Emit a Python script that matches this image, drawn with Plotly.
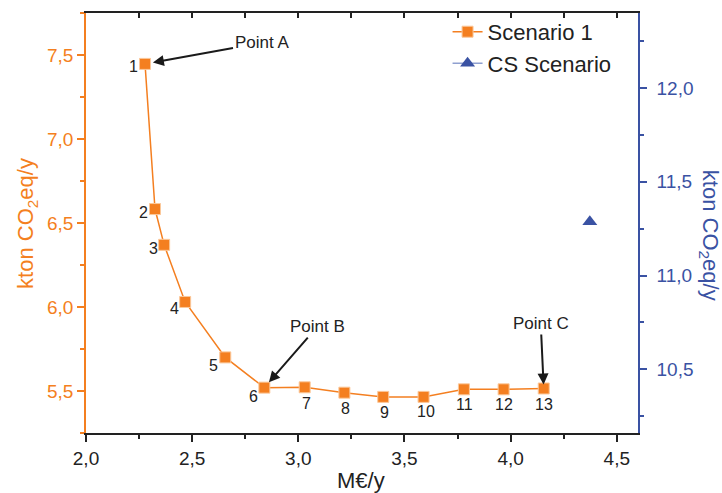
import plotly.graph_objects as go

# ---- data ----
cost_s1 = [2.278, 2.325, 2.368, 2.467, 2.656, 2.840, 3.030, 3.217, 3.400, 3.590, 3.780, 3.967, 4.156]
emis_s1 = [7.447, 6.583, 6.370, 6.030, 5.700, 5.520, 5.522, 5.490, 5.465, 5.465, 5.510, 5.510, 5.515]
point_labels = ["1", "2", "3", "4", "5", "6", "7", "8", "9", "10", "11", "12", "13"]
cost_cs = [4.373]
emis_cs = [11.287]

x_ticks = [2.0, 2.5, 3.0, 3.5, 4.0, 4.5]
y_ticks = [5.5, 6.0, 6.5, 7.0, 7.5]
y2_ticks = [10.5, 11.0, 11.5, 12.0]

# label offsets in pixels (style, not data)
lbl_dx = [-12, -12, -11, -11, -12, -11, 2, 1, 1, 2, 1, 0, 0]
lbl_dy = [3, 3, 4, 7, 8, 9, 16, 16, 16, 15, 15, 15, 16]

ORANGE = "#F47F20"
BLUE = "#3A52A3"
DARK = "#222222"
FONT = "Liberation Sans"

fig = go.Figure()

fig.add_trace(go.Scatter(
    x=cost_s1, y=emis_s1, mode="lines+markers", name="Scenario 1",
    line=dict(color=ORANGE, width=1.5),
    marker=dict(symbol="square", size=11, color=ORANGE, line=dict(color="#FBC89A", width=1)),
    xaxis="x", yaxis="y",
))
fig.add_trace(go.Scatter(
    x=cost_cs, y=emis_cs, mode="lines+markers", name="CS Scenario",
    line=dict(color="#8FA0D0", width=1.5),
    marker=dict(symbol="triangle-up", size=13, color=BLUE),
    xaxis="x", yaxis="y2",
))
# invisible trace to carry the top mirror axis
fig.add_trace(go.Scatter(x=[cost_s1[0]], y=[emis_s1[0]], mode="markers", marker=dict(opacity=0),
                         showlegend=False, hoverinfo="skip", xaxis="x2", yaxis="y"))

annotations = []
for xv, yv, lab, dx, dy in zip(cost_s1, emis_s1, point_labels, lbl_dx, lbl_dy):
    annotations.append(dict(x=xv, y=yv, xref="x", yref="y", text=lab, showarrow=False,
                            xanchor="center", yanchor="middle", xshift=dx, yshift=-dy,
                            font=dict(family=FONT, size=16, color=DARK)))

ann_base = dict(showarrow=True, arrowhead=2, arrowsize=1.1, arrowwidth=2, arrowcolor="#1a1a1a",
                xref="x", yref="y", axref="pixel", ayref="pixel",
                font=dict(family=FONT, size=17, color=DARK))
annotations += [
    dict(ann_base, x=cost_s1[0], y=emis_s1[0], text="Point A", ax=117, ay=-21, standoff=8),
    dict(ann_base, x=cost_s1[5], y=emis_s1[5], text="Point B", ax=53, ay=-61, standoff=7),
    dict(ann_base, x=cost_s1[12], y=emis_s1[12], text="Point C", ax=-3, ay=-65, standoff=4),
    # axis titles
    dict(xref="paper", yref="paper", x=-0.107, y=0.5, showarrow=False, textangle=-90,
         xanchor="center", yanchor="middle",
         text="kton CO<sub>2</sub>eq/y", font=dict(family=FONT, size=22, color=ORANGE)),
    dict(xref="paper", yref="paper", x=1.13, y=0.47, showarrow=False, textangle=90,
         xanchor="center", yanchor="middle",
         text="kton CO<sub>2</sub>eq/y", font=dict(family=FONT, size=22, color=BLUE)),
    dict(xref="paper", yref="paper", x=0.499, y=-0.114, showarrow=False,
         xanchor="center", yanchor="middle",
         text="M€/y", font=dict(family=FONT, size=22, color=DARK)),
]

fig.update_layout(
    width=722, height=493,
    margin=dict(l=86, r=84, t=11, b=60),
    paper_bgcolor="white", plot_bgcolor="white",
    separators=",.",
    font=dict(family=FONT, size=19, color=DARK),
    showlegend=True,
    legend=dict(x=0.655, y=1.005, xanchor="left", yanchor="top", bgcolor="rgba(0,0,0,0)",
                font=dict(family=FONT, size=22, color=DARK), tracegroupgap=0),
    xaxis=dict(range=[2.0, 4.6], tickvals=x_ticks, tickformat=".1f", automargin=False,
               showgrid=False, zeroline=False, showline=True, linecolor=DARK, linewidth=1.5,
               ticks="outside", ticklen=7, tickwidth=1.5, tickcolor=DARK,
               minor=dict(dtick=0.25, tick0=2.0, ticks="outside", ticklen=4, tickwidth=1.5, tickcolor=DARK),
               tickfont=dict(family=FONT, size=19, color=DARK)),
    xaxis2=dict(range=[2.0, 4.6], overlaying="x", side="top", showticklabels=False, automargin=False,
                tickvals=[2.0, 2.25, 2.5, 2.75, 3.0, 3.25, 3.5, 3.75, 4.0, 4.25, 4.5],
                showgrid=False, zeroline=False, showline=True, linecolor=DARK, linewidth=1.5,
                ticks="inside", ticklen=5, tickwidth=1.5, tickcolor=DARK),
    yaxis=dict(range=[5.25, 7.75], tickvals=y_ticks, tickformat=".1f", automargin=False,
               showgrid=False, zeroline=False, showline=True, linecolor=ORANGE, linewidth=1.5,
               ticks="outside", ticklen=7, tickwidth=1.5, tickcolor=ORANGE,
               minor=dict(dtick=0.25, tick0=5.25, ticks="outside", ticklen=4, tickwidth=1.5, tickcolor=ORANGE),
               tickfont=dict(family=FONT, size=19, color=ORANGE)),
    yaxis2=dict(range=[10.16, 12.4], overlaying="y", side="right", tickvals=y2_ticks, tickformat=".1f",
                automargin=False, ticklabelstandoff=6,
                showgrid=False, zeroline=False, showline=True, linecolor=BLUE, linewidth=1.5,
                ticks="outside", ticklen=7, tickwidth=1.5, tickcolor=BLUE,
                minor=dict(dtick=0.25, tick0=10.25, ticks="outside", ticklen=4, tickwidth=1.5, tickcolor=BLUE),
                tickfont=dict(family=FONT, size=19, color=BLUE)),
    annotations=annotations,
)

fig.write_html("out.html", config={"displayModeBar": False},
               post_script="document.body.style.margin='0';")
